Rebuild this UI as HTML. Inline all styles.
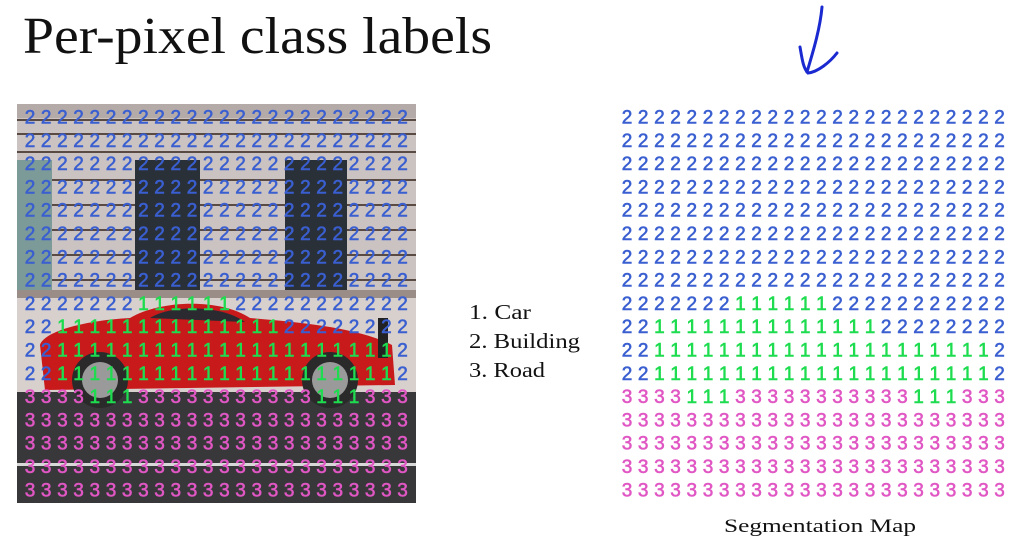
<!DOCTYPE html>
<html><head><meta charset="utf-8"><style>
html,body{margin:0;padding:0;background:#fff;}
svg{display:block}
.d{font-family:"Liberation Sans",sans-serif;font-size:19px;text-anchor:middle;stroke-width:0.6}
.b{fill:#3a5fd0;stroke:#3a5fd0}.g{fill:#1edc4f;stroke:#1edc4f}.p{fill:#e057c4;stroke:#e057c4}
.s{font-family:"Liberation Serif",serif;fill:#111}
</style></head><body>
<svg width="1024" height="552" viewBox="0 0 1024 552" xmlns="http://www.w3.org/2000/svg">
<rect width="1024" height="552" fill="#fff"/>
<text class="s" x="23" y="53" font-size="52" textLength="469" lengthAdjust="spacingAndGlyphs">Per-pixel class labels</text>
<!-- arrow -->
<path d="M822 7 C820 30 812 55 807 72" stroke="#1a2ad0" stroke-width="3" fill="none" stroke-linecap="round"/>
<path d="M800 47 C802 58 803 68 808 73 C818 72 830 62 837 53" stroke="#1a2ad0" stroke-width="3" fill="none" stroke-linecap="round"/>
<!-- photo -->
<g>
<rect x="17" y="104" width="399" height="399" fill="#cbc3c2"/>
<rect x="17" y="104" width="399" height="14" fill="#b4aaa8"/>
<g stroke="#5a4a44" stroke-width="2">
<line x1="17" y1="120" x2="416" y2="120"/><line x1="17" y1="134" x2="416" y2="134"/>
<line x1="17" y1="152" x2="416" y2="152"/><line x1="17" y1="180" x2="416" y2="180"/>
<line x1="17" y1="205" x2="416" y2="205"/><line x1="17" y1="230" x2="416" y2="230"/>
<line x1="17" y1="255" x2="416" y2="255"/><line x1="17" y1="280" x2="416" y2="280"/>
</g>
<rect x="17" y="160" width="35" height="130" fill="#7c9a98"/>
<rect x="135" y="160" width="65" height="130" fill="#2a3038"/>
<rect x="285" y="160" width="62" height="130" fill="#2a3038"/>
<rect x="17" y="290" width="399" height="8" fill="#9a8c86"/>
<rect x="17" y="298" width="399" height="95" fill="#d8d0cc"/>
<rect x="17" y="392" width="399" height="111" fill="#38383b"/>
<rect x="17" y="463" width="399" height="3" fill="#d8d8d8"/>
<path d="M40 345 C45 330 90 320 130 318 C160 300 220 298 250 318 C300 322 360 328 392 345 L395 385 L45 390 Z" fill="#c8191b"/>
<path d="M150 318 C170 305 220 304 245 322 Z" fill="#2a2a30"/>
<circle cx="100" cy="380" r="28" fill="#2a2a2a"/><circle cx="100" cy="380" r="18" fill="#9a9a9a"/>
<circle cx="330" cy="380" r="28" fill="#2a2a2a"/><circle cx="330" cy="380" r="18" fill="#9a9a9a"/>
<rect x="378" y="318" width="10" height="40" fill="#222"/>
</g>
<text class="s" x="469" y="319" font-size="21" textLength="62" lengthAdjust="spacingAndGlyphs">1. Car</text>
<text class="s" x="469" y="348" font-size="21" textLength="111" lengthAdjust="spacingAndGlyphs">2. Building</text>
<text class="s" x="469" y="377" font-size="21" textLength="76" lengthAdjust="spacingAndGlyphs">3. Road</text>
<text class="s" x="724" y="532" font-size="19" textLength="192" lengthAdjust="spacingAndGlyphs">Segmentation Map</text>

<g>
<text class="d b" y="123.5" x="627 643.2 659.4 675.6 691.8 708 724.2 740.4 756.6 772.8 789 805.2 821.4 837.6 853.8 870 886.2 902.4 918.6 934.8 951 967.2 983.4 999.6">222222222222222222222222</text>
<text class="d b" y="146.8" x="627 643.2 659.4 675.6 691.8 708 724.2 740.4 756.6 772.8 789 805.2 821.4 837.6 853.8 870 886.2 902.4 918.6 934.8 951 967.2 983.4 999.6">222222222222222222222222</text>
<text class="d b" y="170.1" x="627 643.2 659.4 675.6 691.8 708 724.2 740.4 756.6 772.8 789 805.2 821.4 837.6 853.8 870 886.2 902.4 918.6 934.8 951 967.2 983.4 999.6">222222222222222222222222</text>
<text class="d b" y="193.4" x="627 643.2 659.4 675.6 691.8 708 724.2 740.4 756.6 772.8 789 805.2 821.4 837.6 853.8 870 886.2 902.4 918.6 934.8 951 967.2 983.4 999.6">222222222222222222222222</text>
<text class="d b" y="216.7" x="627 643.2 659.4 675.6 691.8 708 724.2 740.4 756.6 772.8 789 805.2 821.4 837.6 853.8 870 886.2 902.4 918.6 934.8 951 967.2 983.4 999.6">222222222222222222222222</text>
<text class="d b" y="240" x="627 643.2 659.4 675.6 691.8 708 724.2 740.4 756.6 772.8 789 805.2 821.4 837.6 853.8 870 886.2 902.4 918.6 934.8 951 967.2 983.4 999.6">222222222222222222222222</text>
<text class="d b" y="263.3" x="627 643.2 659.4 675.6 691.8 708 724.2 740.4 756.6 772.8 789 805.2 821.4 837.6 853.8 870 886.2 902.4 918.6 934.8 951 967.2 983.4 999.6">222222222222222222222222</text>
<text class="d b" y="286.6" x="627 643.2 659.4 675.6 691.8 708 724.2 740.4 756.6 772.8 789 805.2 821.4 837.6 853.8 870 886.2 902.4 918.6 934.8 951 967.2 983.4 999.6">222222222222222222222222</text>
<text class="d" y="309.9"><tspan class="b" x="627 643.2 659.4 675.6 691.8 708 724.2">2222222</tspan><tspan class="g" x="740.4 756.6 772.8 789 805.2 821.4">111111</tspan><tspan class="b" x="837.6 853.8 870 886.2 902.4 918.6 934.8 951 967.2 983.4 999.6">22222222222</tspan></text>
<text class="d" y="333.2"><tspan class="b" x="627 643.2">22</tspan><tspan class="g" x="659.4 675.6 691.8 708 724.2 740.4 756.6 772.8 789 805.2 821.4 837.6 853.8 870">11111111111111</tspan><tspan class="b" x="886.2 902.4 918.6 934.8 951 967.2 983.4 999.6">22222222</tspan></text>
<text class="d" y="356.5"><tspan class="b" x="627 643.2">22</tspan><tspan class="g" x="659.4 675.6 691.8 708 724.2 740.4 756.6 772.8 789 805.2 821.4 837.6 853.8 870 886.2 902.4 918.6 934.8 951 967.2 983.4">111111111111111111111</tspan><tspan class="b" x="999.6">2</tspan></text>
<text class="d" y="379.8"><tspan class="b" x="627 643.2">22</tspan><tspan class="g" x="659.4 675.6 691.8 708 724.2 740.4 756.6 772.8 789 805.2 821.4 837.6 853.8 870 886.2 902.4 918.6 934.8 951 967.2 983.4">111111111111111111111</tspan><tspan class="b" x="999.6">2</tspan></text>
<text class="d" y="403.1"><tspan class="p" x="627 643.2 659.4 675.6">3333</tspan><tspan class="g" x="691.8 708 724.2">111</tspan><tspan class="p" x="740.4 756.6 772.8 789 805.2 821.4 837.6 853.8 870 886.2 902.4">33333333333</tspan><tspan class="g" x="918.6 934.8 951">111</tspan><tspan class="p" x="967.2 983.4 999.6">333</tspan></text>
<text class="d p" y="426.4" x="627 643.2 659.4 675.6 691.8 708 724.2 740.4 756.6 772.8 789 805.2 821.4 837.6 853.8 870 886.2 902.4 918.6 934.8 951 967.2 983.4 999.6">333333333333333333333333</text>
<text class="d p" y="449.7" x="627 643.2 659.4 675.6 691.8 708 724.2 740.4 756.6 772.8 789 805.2 821.4 837.6 853.8 870 886.2 902.4 918.6 934.8 951 967.2 983.4 999.6">333333333333333333333333</text>
<text class="d p" y="473" x="627 643.2 659.4 675.6 691.8 708 724.2 740.4 756.6 772.8 789 805.2 821.4 837.6 853.8 870 886.2 902.4 918.6 934.8 951 967.2 983.4 999.6">333333333333333333333333</text>
<text class="d p" y="496.3" x="627 643.2 659.4 675.6 691.8 708 724.2 740.4 756.6 772.8 789 805.2 821.4 837.6 853.8 870 886.2 902.4 918.6 934.8 951 967.2 983.4 999.6">333333333333333333333333</text>
</g>
<g transform="translate(-597,0)">
<text class="d b" y="123.5" x="627 643.2 659.4 675.6 691.8 708 724.2 740.4 756.6 772.8 789 805.2 821.4 837.6 853.8 870 886.2 902.4 918.6 934.8 951 967.2 983.4 999.6">222222222222222222222222</text>
<text class="d b" y="146.8" x="627 643.2 659.4 675.6 691.8 708 724.2 740.4 756.6 772.8 789 805.2 821.4 837.6 853.8 870 886.2 902.4 918.6 934.8 951 967.2 983.4 999.6">222222222222222222222222</text>
<text class="d b" y="170.1" x="627 643.2 659.4 675.6 691.8 708 724.2 740.4 756.6 772.8 789 805.2 821.4 837.6 853.8 870 886.2 902.4 918.6 934.8 951 967.2 983.4 999.6">222222222222222222222222</text>
<text class="d b" y="193.4" x="627 643.2 659.4 675.6 691.8 708 724.2 740.4 756.6 772.8 789 805.2 821.4 837.6 853.8 870 886.2 902.4 918.6 934.8 951 967.2 983.4 999.6">222222222222222222222222</text>
<text class="d b" y="216.7" x="627 643.2 659.4 675.6 691.8 708 724.2 740.4 756.6 772.8 789 805.2 821.4 837.6 853.8 870 886.2 902.4 918.6 934.8 951 967.2 983.4 999.6">222222222222222222222222</text>
<text class="d b" y="240" x="627 643.2 659.4 675.6 691.8 708 724.2 740.4 756.6 772.8 789 805.2 821.4 837.6 853.8 870 886.2 902.4 918.6 934.8 951 967.2 983.4 999.6">222222222222222222222222</text>
<text class="d b" y="263.3" x="627 643.2 659.4 675.6 691.8 708 724.2 740.4 756.6 772.8 789 805.2 821.4 837.6 853.8 870 886.2 902.4 918.6 934.8 951 967.2 983.4 999.6">222222222222222222222222</text>
<text class="d b" y="286.6" x="627 643.2 659.4 675.6 691.8 708 724.2 740.4 756.6 772.8 789 805.2 821.4 837.6 853.8 870 886.2 902.4 918.6 934.8 951 967.2 983.4 999.6">222222222222222222222222</text>
<text class="d" y="309.9"><tspan class="b" x="627 643.2 659.4 675.6 691.8 708 724.2">2222222</tspan><tspan class="g" x="740.4 756.6 772.8 789 805.2 821.4">111111</tspan><tspan class="b" x="837.6 853.8 870 886.2 902.4 918.6 934.8 951 967.2 983.4 999.6">22222222222</tspan></text>
<text class="d" y="333.2"><tspan class="b" x="627 643.2">22</tspan><tspan class="g" x="659.4 675.6 691.8 708 724.2 740.4 756.6 772.8 789 805.2 821.4 837.6 853.8 870">11111111111111</tspan><tspan class="b" x="886.2 902.4 918.6 934.8 951 967.2 983.4 999.6">22222222</tspan></text>
<text class="d" y="356.5"><tspan class="b" x="627 643.2">22</tspan><tspan class="g" x="659.4 675.6 691.8 708 724.2 740.4 756.6 772.8 789 805.2 821.4 837.6 853.8 870 886.2 902.4 918.6 934.8 951 967.2 983.4">111111111111111111111</tspan><tspan class="b" x="999.6">2</tspan></text>
<text class="d" y="379.8"><tspan class="b" x="627 643.2">22</tspan><tspan class="g" x="659.4 675.6 691.8 708 724.2 740.4 756.6 772.8 789 805.2 821.4 837.6 853.8 870 886.2 902.4 918.6 934.8 951 967.2 983.4">111111111111111111111</tspan><tspan class="b" x="999.6">2</tspan></text>
<text class="d" y="403.1"><tspan class="p" x="627 643.2 659.4 675.6">3333</tspan><tspan class="g" x="691.8 708 724.2">111</tspan><tspan class="p" x="740.4 756.6 772.8 789 805.2 821.4 837.6 853.8 870 886.2 902.4">33333333333</tspan><tspan class="g" x="918.6 934.8 951">111</tspan><tspan class="p" x="967.2 983.4 999.6">333</tspan></text>
<text class="d p" y="426.4" x="627 643.2 659.4 675.6 691.8 708 724.2 740.4 756.6 772.8 789 805.2 821.4 837.6 853.8 870 886.2 902.4 918.6 934.8 951 967.2 983.4 999.6">333333333333333333333333</text>
<text class="d p" y="449.7" x="627 643.2 659.4 675.6 691.8 708 724.2 740.4 756.6 772.8 789 805.2 821.4 837.6 853.8 870 886.2 902.4 918.6 934.8 951 967.2 983.4 999.6">333333333333333333333333</text>
<text class="d p" y="473" x="627 643.2 659.4 675.6 691.8 708 724.2 740.4 756.6 772.8 789 805.2 821.4 837.6 853.8 870 886.2 902.4 918.6 934.8 951 967.2 983.4 999.6">333333333333333333333333</text>
<text class="d p" y="496.3" x="627 643.2 659.4 675.6 691.8 708 724.2 740.4 756.6 772.8 789 805.2 821.4 837.6 853.8 870 886.2 902.4 918.6 934.8 951 967.2 983.4 999.6">333333333333333333333333</text>
</g>
</svg>
</body></html>
